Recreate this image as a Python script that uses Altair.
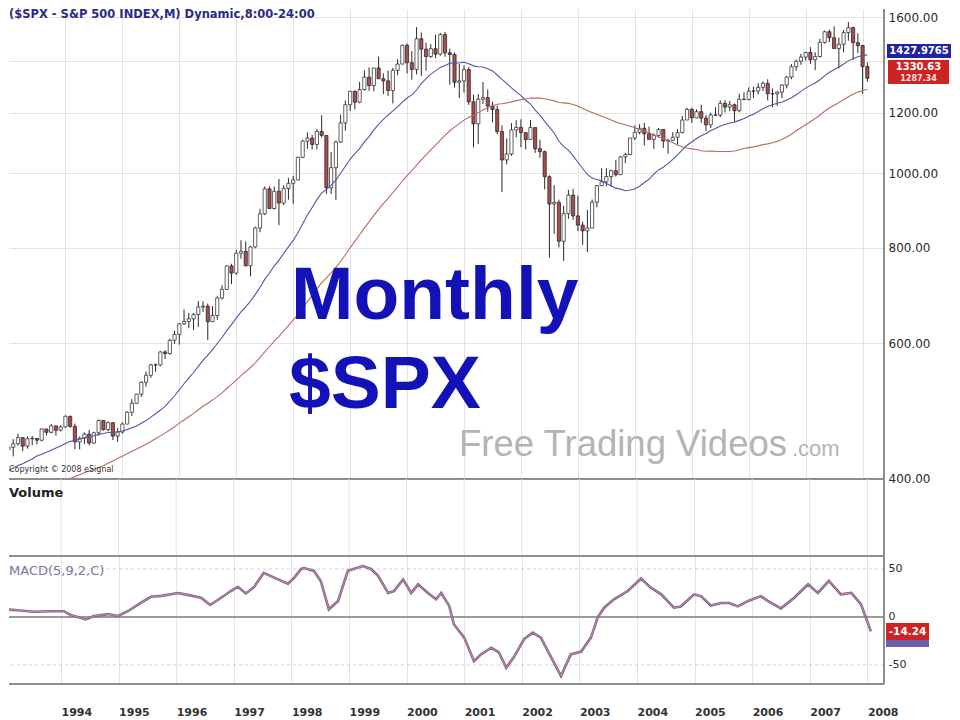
import altair as alt
import pandas as pd

# ---------------- data ----------------
# monthly closes 1989-1992 (only used for the moving averages)
pre_close = [
    297.47, 288.86, 294.87, 309.64, 320.52, 317.98, 346.08, 351.45, 349.15, 340.36, 345.99, 353.40,
    329.08, 331.89, 339.94, 330.80, 361.23, 358.02, 356.15, 322.56, 306.05, 304.00, 322.22, 330.22,
    343.93, 367.07, 375.22, 375.35, 389.83, 371.16, 387.81, 395.43, 387.86, 392.45, 375.22, 417.09,
    408.79, 412.70, 403.69, 414.95, 415.35, 408.14, 424.21, 414.03, 417.80, 418.68, 431.35, 435.71,
]

# monthly bars Jan 1993 - Feb 2008
close = [
    438.78, 443.38, 451.67, 440.19, 450.19, 450.53, 448.13, 463.56, 458.93, 467.83, 461.79, 466.45,
    481.61, 467.14, 445.77, 450.91, 456.50, 444.27, 458.26, 475.49, 462.69, 472.35, 453.69, 459.27,
    470.42, 487.39, 500.71, 514.71, 533.40, 544.75, 562.06, 561.88, 584.41, 581.50, 605.37, 615.93,
    636.02, 640.43, 645.50, 654.17, 669.12, 670.63, 639.95, 651.99, 687.31, 705.27, 757.02, 740.74,
    786.16, 790.82, 757.12, 801.34, 848.28, 885.14, 954.29, 899.47, 947.28, 914.62, 955.40, 970.43,
    980.28, 1049.34, 1101.75, 1111.75, 1090.82, 1133.84, 1120.67, 957.28, 1017.01, 1098.67, 1163.63, 1229.23,
    1279.64, 1238.33, 1286.37, 1335.18, 1301.84, 1372.71, 1328.72, 1320.41, 1282.71, 1362.93, 1388.91, 1469.25,
    1394.46, 1366.42, 1498.58, 1452.43, 1420.60, 1454.60, 1430.83, 1517.68, 1436.51, 1429.40, 1314.95, 1320.28,
    1366.01, 1239.94, 1160.33, 1249.46, 1255.82, 1224.42, 1211.23, 1133.58, 1040.94, 1059.78, 1139.45, 1148.08,
    1130.20, 1106.73, 1147.39, 1076.92, 1067.14, 989.82, 911.62, 916.07, 815.28, 885.76, 936.31, 879.82,
    855.70, 841.15, 848.18, 916.92, 963.59, 974.50, 990.31, 1008.01, 995.97, 1050.71, 1058.20, 1111.92,
    1131.13, 1144.94, 1126.21, 1107.30, 1120.68, 1140.84, 1101.72, 1104.24, 1114.58, 1130.20, 1173.82, 1211.92,
    1181.27, 1203.60, 1180.59, 1156.85, 1191.50, 1191.33, 1234.18, 1220.33, 1228.81, 1207.01, 1249.48, 1248.29,
    1280.08, 1280.66, 1294.83, 1310.61, 1270.09, 1270.20, 1276.66, 1303.82, 1335.85, 1377.94, 1400.63, 1418.30,
    1438.24, 1406.82, 1420.86, 1482.37, 1530.62, 1503.35, 1455.27, 1473.99, 1526.75, 1549.38, 1481.14, 1468.36,
    1378.55, 1330.63,
]
high = [
    442.5, 449.5, 456.9, 452.0, 453.5, 453.9, 451.0, 464.3, 463.6, 470.6, 468.5, 468.8,
    482.9, 482.2, 471.1, 453.1, 458.7, 462.1, 459.7, 476.8, 476.0, 474.2, 473.1, 464.9,
    472.8, 489.2, 507.0, 515.2, 534.8, 551.1, 563.8, 564.2, 586.0, 587.6, 608.1, 622.9,
    637.0, 664.2, 657.4, 656.7, 681.1, 680.3, 675.9, 670.7, 690.9, 714.1, 758.0, 761.8,
    794.7, 817.7, 814.9, 804.1, 851.9, 898.7, 961.0, 961.3, 960.6, 983.1, 964.6, 986.3,
    992.7, 1051.0, 1106.0, 1130.5, 1122.1, 1143.0, 1190.6, 1121.0, 1066.1, 1103.8, 1192.7, 1244.9,
    1280.1, 1283.3, 1316.6, 1362.8, 1375.0, 1372.9, 1420.3, 1350.6, 1361.3, 1373.2, 1408.7, 1473.1,
    1478.0, 1444.6, 1552.9, 1527.2, 1481.5, 1474.6, 1517.3, 1525.2, 1530.1, 1454.8, 1438.5, 1389.1,
    1383.4, 1376.4, 1267.4, 1269.3, 1315.9, 1286.6, 1239.8, 1226.3, 1155.4, 1110.6, 1163.4, 1173.0,
    1176.6, 1131.0, 1173.9, 1147.8, 1106.6, 1070.7, 994.5, 965.0, 924.0, 907.4, 951.6, 954.3,
    935.1, 864.6, 895.9, 924.2, 965.4, 1015.3, 1015.4, 1011.0, 1040.3, 1053.8, 1063.7, 1112.0,
    1155.4, 1158.9, 1163.2, 1150.6, 1127.7, 1146.3, 1142.0, 1109.7, 1131.5, 1142.1, 1188.5, 1217.9,
    1217.8, 1212.4, 1229.1, 1191.9, 1200.1, 1219.6, 1245.2, 1245.9, 1243.1, 1233.3, 1270.6, 1275.8,
    1294.9, 1297.6, 1310.9, 1318.2, 1326.7, 1290.7, 1280.4, 1307.1, 1340.3, 1389.5, 1407.9, 1431.8,
    1441.6, 1461.6, 1438.9, 1498.0, 1535.6, 1540.6, 1555.9, 1503.9, 1538.7, 1576.1, 1554.0, 1523.6,
    1471.8, 1396.0,
]
low = [
    425.0, 426.9, 440.9, 433.5, 436.9, 441.6, 442.6, 446.7, 454.4, 457.5, 454.4, 460.1,
    465.4, 465.4, 436.2, 435.9, 442.9, 441.2, 443.5, 454.3, 461.1, 460.1, 448.3, 445.9,
    457.2, 470.2, 481.9, 500.2, 510.6, 526.4, 540.6, 550.4, 559.7, 572.1, 579.4, 598.9,
    597.3, 633.7, 627.6, 624.1, 630.1, 658.8, 605.9, 639.4, 643.7, 684.0, 703.8, 716.7,
    737.0, 773.4, 756.0, 733.5, 798.2, 837.6, 882.0, 898.3, 897.0, 855.3, 908.8, 923.9,
    912.8, 979.0, 1047.4, 1076.7, 1074.4, 1074.6, 1114.3, 940.0, 939.9, 923.3, 1096.0, 1136.9,
    1205.5, 1211.8, 1234.2, 1282.5, 1281.4, 1279.7, 1328.7, 1268.4, 1262.1, 1233.7, 1343.2, 1387.4,
    1350.1, 1325.1, 1346.6, 1339.4, 1361.1, 1415.0, 1413.9, 1424.2, 1419.4, 1305.8, 1294.9, 1254.1,
    1274.6, 1228.3, 1081.2, 1091.9, 1232.0, 1203.0, 1165.5, 1124.9, 944.8, 1026.8, 1054.3, 1114.5,
    1081.7, 1074.4, 1106.7, 1063.5, 1048.0, 952.9, 775.7, 833.4, 800.2, 768.6, 872.1, 869.5,
    840.3, 806.3, 788.9, 847.9, 902.8, 963.4, 962.1, 960.8, 990.4, 994.9, 1031.2, 1055.7,
    1105.1, 1124.4, 1087.2, 1107.2, 1076.3, 1113.3, 1078.8, 1060.7, 1101.2, 1090.2, 1127.6, 1173.8,
    1163.8, 1180.0, 1163.7, 1136.2, 1146.2, 1188.3, 1183.6, 1201.1, 1205.4, 1168.2, 1201.1, 1246.6,
    1245.7, 1253.6, 1268.4, 1280.7, 1245.3, 1219.3, 1224.5, 1253.8, 1290.9, 1327.1, 1360.9, 1385.9,
    1403.9, 1389.7, 1363.9, 1416.4, 1476.7, 1484.2, 1454.3, 1370.6, 1439.2, 1489.6, 1406.1, 1435.6,
    1270.1, 1316.8,
]

# MACD(5,9,2,C)
macd_t = [1993.01, 1993.25, 1993.53, 1993.83, 1994.05, 1994.17, 1994.43, 1994.57, 1994.82, 1994.99,
          1995.16, 1995.39, 1995.56, 1995.74, 1996.03, 1996.20, 1996.43, 1996.59, 1996.78, 1996.95,
          1997.07, 1997.21, 1997.35, 1997.52, 1997.70, 1997.94, 1998.05, 1998.17, 1998.22, 1998.39,
          1998.51, 1998.65, 1998.81, 1998.98, 1999.24, 1999.38, 1999.50, 1999.68, 1999.78, 1999.94,
          2000.08, 2000.20, 2000.37, 2000.51, 2000.60, 2000.74, 2000.82, 2001.00, 2001.17, 2001.29,
          2001.47, 2001.60, 2001.73, 2001.86, 2002.04, 2002.19, 2002.33, 2002.51, 2002.68, 2002.85,
          2003.03, 2003.20, 2003.32, 2003.43, 2003.60, 2003.84, 2004.07, 2004.24, 2004.42, 2004.64,
          2004.76, 2004.99, 2005.11, 2005.28, 2005.46, 2005.60, 2005.75, 2005.93, 2006.15, 2006.27,
          2006.50, 2006.73, 2006.97, 2007.14, 2007.33, 2007.54, 2007.72, 2007.89, 2008.06]
macd_v = [8, 7, 5.5, 6, 6, 2, -2.5, 1, 3, 1,
          6, 15, 21, 22, 25, 23, 20, 12.5, 20, 27,
          31.5, 24.5, 31, 46, 41, 34.7, 41, 50, 51, 48,
          37.5, 8, 16.7, 48, 53, 50, 43, 25, 27, 39,
          25, 34, 25, 18.4, 25, 11.5, -7.6, -21.5, -46, -39,
          -32, -37, -52.8, -42, -23, -16.3, -21.5, -42, -61.5, -39,
          -36, -21.5, 0, 9.7, 18.4, 27, 40, 30.5, 23.6, 9.7,
          11, 23.6, 21.7, 12, 14.6, 14.6, 11, 16.7, 21.7, 16.7,
          9, 20, 34, 25, 37.5, 23.6, 25, 13, -15]

price_ticks = [400, 600, 800, 1000, 1200, 1400, 1600]
macd_ticks = [-50, 0, 50]
macd_guides = [-50, 50]
year_ticks = list(range(1994, 2009))

title_text = "($SPX - S&P 500 INDEX,M) Dynamic,8:00-24:00"
ma20_label = "1427.9765"
close_label = "1330.63"
ma50_label = "1287.34"
macd_label = "-14.24"

# ---------------- tables ----------------
rows = [{"t": 1989 + i / 12, "close": c, "high": None, "low": None} for i, c in enumerate(pre_close)]
rows += [{"t": 1993 + i / 12, "close": c, "high": high[i], "low": low[i]} for i, c in enumerate(close)]
df = pd.DataFrame(rows)
macd_df = pd.DataFrame({"t": macd_t, "v": macd_v})
years_df = pd.DataFrame({"t": year_ticks})
zero_df = pd.DataFrame({"v": [0]})
guide_df = pd.DataFrame({"v": macd_guides})
one = pd.DataFrame({"k": [0]})

W = 875
H_PRICE, H_VOL, H_MACD = 470, 77, 128
GRID = "#e3e3e3"
SEP = "#8e8e8e"

xs = alt.Scale(domain=[1993.097, 2008.288], nice=False, zero=False)
ys = alt.Scale(type="log", domain=[398.8, 1639.0], nice=False)
ms = alt.Scale(domain=[-69.8, 63.5], nice=False, zero=False)

xgrid = alt.Axis(values=year_ticks, grid=True, gridColor=GRID, labels=False, ticks=False,
                 domain=False, title=None)
yax = alt.Axis(orient="right", values=price_ticks,
               labelExpr="datum.value == 1400 ? '' : format(datum.value, '.2f')",
               grid=True, gridColor=GRID, ticks=False, domain=False, labelPadding=4,
               labelFont="DejaVu Sans", labelFontSize=12, labelColor="#2a2a2a",
               labelOverlap=False, title=None)
xbottom = alt.Axis(values=year_ticks, format="d", grid=True, gridColor=GRID, ticks=False,
                   domain=False, labelAlign="left", labelBaseline="top", labelPadding=22,
                   labelFont="DejaVu Sans", labelFontWeight="bold", labelFontSize=11,
                   labelColor="#333333", labelOverlap=False, labelFlush=False, title=None)
maxis = alt.Axis(orient="right", values=macd_ticks, labelExpr="toString(datum.value)",
                 grid=False, ticks=False, domain=False, labelPadding=4,
                 labelFont="DejaVu Sans", labelFontSize=11, labelColor="#2a2a2a",
                 labelOverlap=False, title=None)

X = alt.X("t:Q", scale=xs, axis=xgrid)

base = (
    alt.Chart(df)
    .transform_window(sma20="mean(close)", frame=[-19, 0], sort=[alt.SortField("t")])
    .transform_window(sma50="mean(close)", frame=[-49, 0], sort=[alt.SortField("t")])
    .transform_window(open="lag(close)", sort=[alt.SortField("t")])
    .transform_filter("datum.t >= 1993")
)

wick = base.mark_rule(color="#2a2a2a", strokeWidth=1, clip=True).encode(
    x=X, y=alt.Y("low:Q", scale=ys, axis=yax), y2="high:Q")
body = base.mark_bar(size=3.2, stroke="#1e1e1e", strokeWidth=0.7, clip=True).encode(
    x=X, y=alt.Y("open:Q", scale=ys, axis=yax), y2="close:Q",
    fill=alt.condition("datum.close >= datum.open", alt.value("#ffffff"), alt.value("#a84c4c")))
ma20 = base.mark_line(color="#4b5aa8", strokeWidth=1.1, clip=True).encode(
    x=X, y=alt.Y("sma20:Q", scale=ys, axis=yax))
ma50 = base.mark_line(color="#b86c60", strokeWidth=1.1, clip=True).encode(
    x=X, y=alt.Y("sma50:Q", scale=ys, axis=yax))


def txt(text, x, y, size, color, weight="normal", font="DejaVu Sans", align="left",
        baseline="middle"):
    return alt.Chart(one).mark_text(text=text, fontSize=size, color=color, fontWeight=weight,
                                    font=font, align=align, baseline=baseline).encode(
        x=alt.value(x), y=alt.value(y))


def box(x1, x2, y1, y2, fill):
    return alt.Chart(one).mark_rect(color=fill).encode(
        x=alt.value(x1), x2=alt.value(x2), y=alt.value(y1), y2=alt.value(y2))


def hline(y, x1=0, x2=W, color=SEP, width=2):
    return alt.Chart(one).mark_rule(color=color, strokeWidth=width).encode(
        x=alt.value(x1), x2=alt.value(x2), y=alt.value(y))


def vline(x, y1, y2, color=SEP, width=2):
    return alt.Chart(one).mark_rule(color=color, strokeWidth=width).encode(
        x=alt.value(x), y=alt.value(y1), y2=alt.value(y2))


price = alt.layer(
    wick, body, ma20, ma50,
    txt(title_text, 0, 0, 11.5, "#2b2b86", weight="bold", baseline="top"),
    txt("Monthly", 282, 310, 75, "#1212b8", weight="bold", font="Liberation Sans",
        baseline="alphabetic"),
    txt("$SPX", 280, 399, 75, "#1212b8", weight="bold", font="Liberation Sans",
        baseline="alphabetic"),
    txt("Free Trading Videos", 450, 447, 36.5, "#b4b4b4", font="Liberation Sans",
        baseline="alphabetic"),
    txt(".com", 783, 447, 22, "#b4b4b4", font="Liberation Sans", baseline="alphabetic"),
    txt("Copyright \u00a9 2008 eSignal", 0, 461, 8, "#333333"),
    hline(H_PRICE),
    vline(W, 0, H_PRICE),
    box(878, 942, 35, 49, "#2222a8"),
    txt(ma20_label, 910, 42, 10, "#ffffff", weight="bold", align="center"),
    box(879, 940, 51, 75, "#cc2424"),
    txt(close_label, 909.5, 57.5, 10, "#ffffff", weight="bold", align="center"),
    txt(ma50_label, 909.5, 69.5, 8, "#ffe0e0", weight="bold", align="center"),
).properties(width=W, height=H_PRICE)

volume = alt.layer(
    alt.Chart(years_df).mark_rule(color=GRID, strokeWidth=1).encode(
        x=alt.X("t:Q", scale=xs, axis=None)),
    txt("Volume", 0, 14, 13, "#222222", weight="bold"),
    vline(W, 0, H_VOL),
).properties(width=W, height=H_VOL)

MX = alt.X("t:Q", scale=xs, axis=xbottom)
MY = alt.Y("v:Q", scale=ms, axis=maxis)
macd = alt.layer(
    alt.Chart(guide_df).mark_rule(color="#d2d2d2", strokeWidth=1, strokeDash=[3, 3]).encode(y=MY),
    alt.Chart(zero_df).mark_rule(color="#7a7a7a", strokeWidth=1.6).encode(y=MY),
    alt.Chart(macd_df).mark_line(color="#7d5f86", strokeWidth=2.6, clip=True).encode(x=MX, y=MY),
    alt.Chart(macd_df).mark_line(color="#cc96a6", strokeWidth=0.9, clip=True).encode(x=MX, y=MY),
    txt("MACD(5,9,2,C)", 0, 15, 13, "#7878a0"),
    hline(0),
    hline(H_MACD),
    vline(W, 0, H_MACD),
    box(877, 920, 67, 84, "#cc2424"),
    txt(macd_label, 898.5, 75.5, 10.5, "#ffffff", weight="bold", align="center"),
    box(877, 920, 84, 91, "#6a62a8"),
).properties(width=W, height=H_MACD)

chart = (
    alt.vconcat(price, volume, macd, spacing=0, bounds="flush")
    .resolve_scale(y="independent")
    .properties(padding=0, background="white")
    .configure_view(stroke=None)
)

chart.save("out.html", embed_options={"renderer": "svg", "actions": False})
